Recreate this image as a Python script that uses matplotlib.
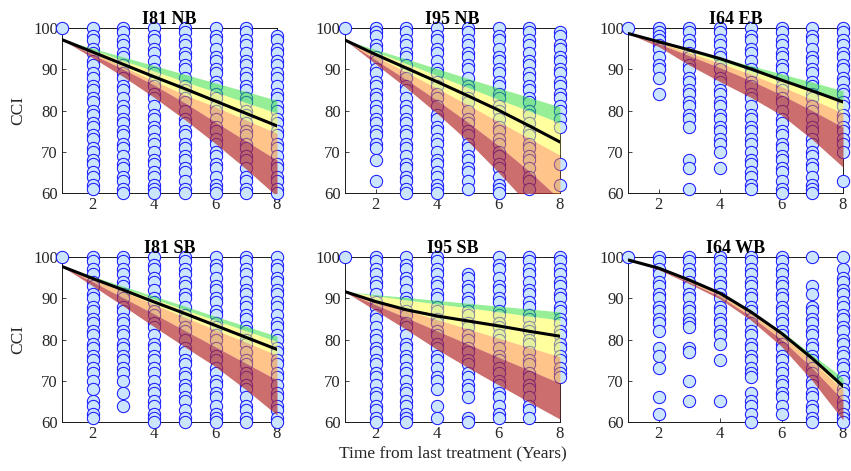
"""Deterioration fan charts of CCI against time since last treatment."""
import matplotlib
matplotlib.use("Agg")
import matplotlib.pyplot as plt

plt.rcParams["font.family"] = ["Liberation Serif", "DejaVu Serif"]
plt.rcParams["font.size"] = 12

YEARS = [1, 2, 3, 4, 5, 6, 7, 8]
TITLES = ["I81 NB", "I95 NB", "I64 EB", "I81 SB", "I95 SB", "I64 WB"]

# observed CCI per year (index 0 = year 1)
i81nb_cci = [
    [100],
    [100, 98, 97, 95, 94, 92, 91, 89, 88, 86, 85, 83, 82, 80, 79, 77, 76, 74, 73, 71, 70, 68, 67, 65, 64, 62, 61],
    [100, 99, 97, 96, 94, 93, 91, 89, 88, 86, 85, 83, 81, 80, 78, 77, 75, 74, 72, 71, 69, 67, 66, 64, 63, 61, 60],
    [100, 98, 97, 95, 94, 92, 90, 89, 87, 86, 84, 83, 81, 79, 78, 76, 75, 73, 72, 70, 68, 67, 65, 64, 62, 61, 60],
    [100, 99, 97, 96, 94, 93, 91, 90, 88, 86, 85, 83, 82, 80, 78, 77, 75, 74, 72, 71, 69, 68, 66, 65, 63, 61, 60],
    [100, 98, 97, 95, 93, 92, 90, 89, 87, 86, 84, 83, 81, 80, 78, 76, 75, 73, 72, 70, 69, 67, 66, 64, 62, 61, 60],
    [100, 99, 97, 96, 94, 92, 91, 89, 88, 86, 85, 83, 82, 80, 79, 77, 75, 74, 72, 71, 69, 68, 66, 64, 63, 61, 60],
    [98, 97, 95, 94, 92, 91, 89, 88, 86, 84, 83, 81, 80, 78, 77, 75, 74, 72, 71, 69, 67, 66, 64, 63, 61, 60],
]
i95nb_cci = [
    [100],
    [100, 99, 98, 96, 95, 93, 92, 90, 89, 87, 86, 84, 83, 81, 80, 78, 77, 75, 74, 72, 71, 68, 63],
    [100, 99, 97, 96, 94, 93, 91, 89, 88, 86, 85, 83, 81, 80, 78, 77, 75, 74, 72, 71, 69, 67, 66, 64, 63, 61, 60],
    [100, 98, 97, 95, 94, 92, 90, 89, 87, 86, 84, 83, 81, 79, 78, 76, 75, 73, 72, 70, 68, 67, 65, 64, 62, 61, 60],
    [100, 99, 97, 96, 94, 93, 91, 90, 88, 86, 85, 83, 82, 80, 78, 77, 75, 74, 72, 71, 69, 68, 66, 65, 63, 61],
    [100, 98, 97, 95, 93, 92, 90, 89, 87, 86, 84, 83, 81, 80, 78, 76, 75, 73, 72, 70, 69, 67, 66, 64, 62, 61, 60],
    [100, 99, 97, 96, 94, 92, 91, 89, 88, 86, 85, 83, 82, 80, 79, 77, 75, 74, 72, 71, 69, 68, 66, 64, 63, 61],
    [99, 98, 96, 95, 93, 92, 90, 89, 87, 86, 84, 83, 81, 80, 78, 76, 67, 62],
]
i64eb_cci = [
    [100],
    [100, 99, 98, 97, 96, 95, 93, 91, 90, 88, 84],
    [100, 99, 97, 96, 94, 93, 91, 90, 88, 87, 85, 84, 82, 81, 79, 78, 76, 68, 66, 61],
    [100, 99, 97, 96, 94, 93, 91, 90, 88, 87, 85, 84, 82, 81, 79, 78, 76, 75, 73, 72, 70, 66],
    [100, 98, 97, 95, 94, 92, 90, 89, 87, 86, 84, 83, 81, 79, 78, 76, 75, 73, 72, 70, 68, 67, 65, 64, 62, 61],
    [100, 99, 97, 96, 94, 93, 91, 90, 88, 86, 85, 83, 82, 80, 78, 77, 75, 74, 72, 71, 69, 68, 66, 65, 63, 61, 60],
    [100, 98, 97, 95, 93, 92, 90, 89, 87, 86, 84, 83, 81, 80, 78, 76, 75, 73, 72, 70, 69, 67, 66, 64, 62, 61, 60],
    [100, 99, 97, 96, 94, 93, 91, 90, 88, 87, 85, 84, 82, 81, 79, 78, 76, 75, 73, 72, 70, 63],
]
i81sb_cci = [
    [100],
    [100, 99, 97, 96, 94, 93, 91, 90, 88, 87, 85, 84, 82, 81, 79, 78, 76, 75, 73, 72, 70, 68, 65, 64, 62, 61],
    [100, 99, 97, 96, 94, 93, 91, 90, 88, 87, 85, 84, 82, 81, 79, 78, 76, 75, 73, 72, 70, 67, 64],
    [100, 98, 97, 95, 94, 92, 90, 89, 87, 86, 84, 83, 81, 79, 78, 76, 75, 73, 72, 70, 68, 67, 65, 64, 62, 61, 60],
    [100, 99, 97, 96, 94, 93, 91, 90, 88, 86, 85, 83, 82, 80, 78, 77, 75, 74, 72, 71, 69, 68, 66, 65, 63, 61, 60],
    [100, 98, 97, 95, 93, 92, 90, 89, 87, 86, 84, 83, 81, 80, 78, 76, 75, 73, 72, 70, 69, 67, 66, 64, 62, 61, 60],
    [100, 99, 97, 96, 94, 92, 91, 89, 88, 86, 85, 83, 82, 80, 79, 77, 75, 74, 72, 71, 69, 68, 66, 64, 63, 61, 60],
    [100, 98, 97, 95, 94, 92, 91, 89, 88, 86, 84, 83, 81, 80, 78, 77, 75, 74, 72, 71, 69, 67, 66, 64, 63, 61, 60],
]
i95sb_cci = [
    [100],
    [100, 99, 97, 96, 94, 93, 91, 89, 88, 86, 85, 83, 81, 80, 78, 77, 75, 74, 72, 71, 69, 67, 66, 64, 63, 61, 60],
    [100, 98, 97, 95, 94, 92, 90, 89, 87, 86, 84, 83, 81, 79, 78, 76, 75, 73, 72, 70, 68, 67, 65, 64, 62, 61, 60],
    [100, 99, 97, 96, 94, 93, 91, 90, 88, 87, 85, 84, 82, 81, 79, 78, 76, 75, 73, 71, 70, 68, 64, 61],
    [96, 95, 93, 92, 90, 89, 87, 86, 84, 83, 81, 80, 78, 77, 75, 74, 72, 71, 69, 68, 66, 61, 60],
    [100, 98, 97, 95, 93, 92, 90, 89, 87, 86, 84, 83, 81, 80, 78, 76, 75, 73, 72, 70, 69, 67, 66, 64, 62, 61],
    [100, 99, 97, 96, 94, 92, 91, 89, 88, 86, 85, 83, 82, 80, 79, 77, 75, 74, 72, 71, 69, 68, 66, 64, 63, 61],
    [100, 99, 97, 96, 94, 93, 91, 90, 88, 87, 85, 84, 82, 81, 79, 78, 76, 75, 73, 72, 71],
]
i64wb_cci = [
    [100],
    [100, 99, 97, 96, 94, 93, 91, 90, 88, 87, 85, 84, 82, 78, 76, 73, 66, 62],
    [100, 99, 97, 96, 94, 93, 91, 90, 88, 87, 85, 84, 83, 78, 77, 70, 65],
    [100, 99, 97, 96, 94, 93, 91, 90, 88, 87, 85, 84, 82, 81, 79, 75, 65],
    [100, 99, 97, 96, 94, 93, 91, 90, 88, 87, 85, 84, 82, 81, 79, 78, 76, 75, 73, 72, 71, 67, 65, 64, 62, 60],
    [100, 99, 97, 96, 94, 93, 91, 90, 88, 87, 85, 84, 82, 81, 79, 78, 76, 75, 73, 72, 70, 69, 67, 66, 64, 62],
    [100, 93, 91, 88, 87, 85, 84, 82, 81, 79, 78, 76, 75, 73, 72, 70, 69, 67, 66, 64, 63, 61, 60],
    [100, 97, 95, 94, 92, 91, 89, 88, 86, 85, 83, 82, 80, 79, 77, 76, 74, 73, 71, 70, 68, 67, 65, 64, 62, 61, 60],
]

# fitted mean deterioration curve
i81nb_mean = [97.2, 94.2, 91.2, 88.2, 85.3, 82.3, 79.3, 76.3]
i95nb_mean = [97.1, 93.6, 90.3, 87.0, 83.6, 80.1, 76.3, 72.4]
i64eb_mean = [98.7, 96.7, 94.7, 92.6, 90.1, 87.4, 84.8, 82.1]
i81sb_mean = [97.7, 94.8, 92.0, 89.1, 86.3, 83.4, 80.5, 77.6]
i95sb_mean = [91.6, 89.2, 87.2, 85.7, 84.5, 83.3, 82.0, 80.8]
i64wb_mean = [99.3, 97.3, 94.4, 91.2, 86.7, 81.5, 75.4, 68.7]

# band edges, top to bottom (green / yellow / orange / red)
i81nb_edges = [
    [97.2, 95.1, 93.0, 90.9, 88.8, 86.7, 84.6, 82.5],
    [97.2, 94.7, 92.1, 89.6, 87.0, 84.5, 81.9, 79.4],
    [97.2, 94.0, 90.6, 87.2, 83.8, 80.9, 77.7, 74.5],
    [97.2, 93.6, 90.0, 86.2, 81.9, 77.2, 72.6, 68.0],
    [97.2, 92.8, 88.2, 83.2, 77.8, 72.0, 65.8, 59.2],
]
i95nb_edges = [
    [97.1, 94.8, 92.5, 90.2, 87.8, 85.5, 83.2, 80.9],
    [97.1, 94.2, 91.4, 88.5, 85.6, 82.7, 79.9, 77.0],
    [97.1, 93.2, 89.3, 85.4, 81.4, 77.3, 73.3, 69.2],
    [97.1, 92.3, 87.5, 82.5, 77.2, 71.5, 65.3, 58.5],
    [97.1, 91.3, 85.5, 79.3, 72.6, 65.0, 57.0, 49.0],
]
i64eb_edges = [
    [98.7, 96.9, 94.9, 92.9, 90.9, 88.9, 86.9, 84.8],
    [98.7, 96.7, 94.4, 92.1, 89.7, 87.3, 85.0, 82.6],
    [98.7, 96.5, 94.0, 91.5, 88.8, 85.8, 82.7, 79.4],
    [98.7, 96.2, 93.3, 90.4, 87.3, 83.8, 80.0, 76.0],
    [98.7, 95.5, 91.0, 87.0, 83.2, 78.9, 73.0, 66.3],
]
i81sb_edges = [
    [97.7, 95.3, 92.9, 90.5, 88.1, 85.6, 83.2, 80.8],
    [97.7, 95.1, 92.4, 89.8, 87.2, 84.6, 82.1, 79.5],
    [97.7, 94.6, 91.6, 88.5, 85.4, 82.3, 79.3, 76.2],
    [97.7, 94.0, 90.1, 86.2, 82.2, 78.2, 74.2, 70.2],
    [97.7, 93.0, 88.1, 83.1, 78.2, 73.4, 67.8, 61.7],
]
i95sb_edges = [
    [91.6, 90.9, 90.2, 89.5, 88.8, 88.1, 87.4, 86.7],
    [91.6, 90.6, 89.6, 88.6, 87.7, 86.7, 85.7, 84.7],
    [91.6, 89.3, 87.1, 84.8, 82.6, 80.3, 78.1, 75.8],
    [91.6, 88.4, 85.3, 82.1, 78.9, 75.7, 72.6, 69.4],
    [91.6, 87.0, 82.4, 77.6, 73.2, 69.0, 64.8, 60.7],
]
i64wb_edges = [
    [99.3, 97.3, 94.4, 91.2, 86.9, 82.0, 76.3, 70.7],
    [99.3, 97.3, 94.4, 91.2, 86.8, 81.7, 75.8, 69.0],
    [99.3, 97.2, 94.2, 90.9, 86.3, 81.0, 74.7, 67.8],
    [99.3, 97.1, 93.9, 90.4, 85.6, 80.0, 73.1, 65.3],
    [99.3, 96.9, 93.5, 89.8, 84.7, 78.3, 70.0, 60.5],
]

band_colors = ["#2ee12e", "#ffff3c", "#ff8a14", "#b42a2a"]
band_alpha = [0.5, 0.5, 0.5, 0.68]

panels = [
    (i81nb_cci, i81nb_mean, i81nb_edges),
    (i95nb_cci, i95nb_mean, i95nb_edges),
    (i64eb_cci, i64eb_mean, i64eb_edges),
    (i81sb_cci, i81sb_mean, i81sb_edges),
    (i95sb_cci, i95sb_mean, i95sb_edges),
    (i64wb_cci, i64wb_mean, i64wb_edges),
]

fig = plt.figure(figsize=(8.51, 4.71), dpi=100)
lefts = [0.0729, 0.4054, 0.738]
bottoms = [0.590, 0.104]
W, H = 0.2526, 0.3503

axes = []
for k, (cci, mean, edges) in enumerate(panels):
    ax = fig.add_axes([lefts[k % 3], bottoms[k // 3], W, H])
    axes.append(ax)

    for yr, vals in zip(YEARS, cci):
        ax.scatter([yr] * len(vals), vals, s=78, marker="o", facecolor="#cce5ff",
                   edgecolor="#1a1aff", linewidth=0.75, zorder=3, clip_on=False)

    for j in range(4):
        ax.fill_between(YEARS, edges[j], edges[j + 1], color=band_colors[j],
                        alpha=band_alpha[j], linewidth=0, zorder=4)

    ax.plot(YEARS, mean, color="black", linewidth=2.2, zorder=5)

    ax.set_xlim(1, 8)
    ax.set_ylim(60, 100)
    ax.set_xticks([2, 4, 6, 8])
    ax.set_yticks([60, 70, 80, 90, 100])
    ax.tick_params(direction="in", length=3, width=0.6, colors="#262626",
                   labelsize=12, pad=3)
    for sp in ax.spines.values():
        sp.set_linewidth(0.7)
        sp.set_color("#1a1a1a")
        sp.set_zorder(2.5)
    ax.set_title(TITLES[k], fontweight="bold", fontsize=13, pad=3)
    if k % 3 == 0:
        ax.set_ylabel("CCI", fontsize=12.5, color="#262626", labelpad=5)

axes[4].set_xlabel("Time from last treatment (Years)", fontsize=12.5,
                   color="#262626", labelpad=2)

fig.savefig("out.png", dpi=100)
plt.close(fig)
